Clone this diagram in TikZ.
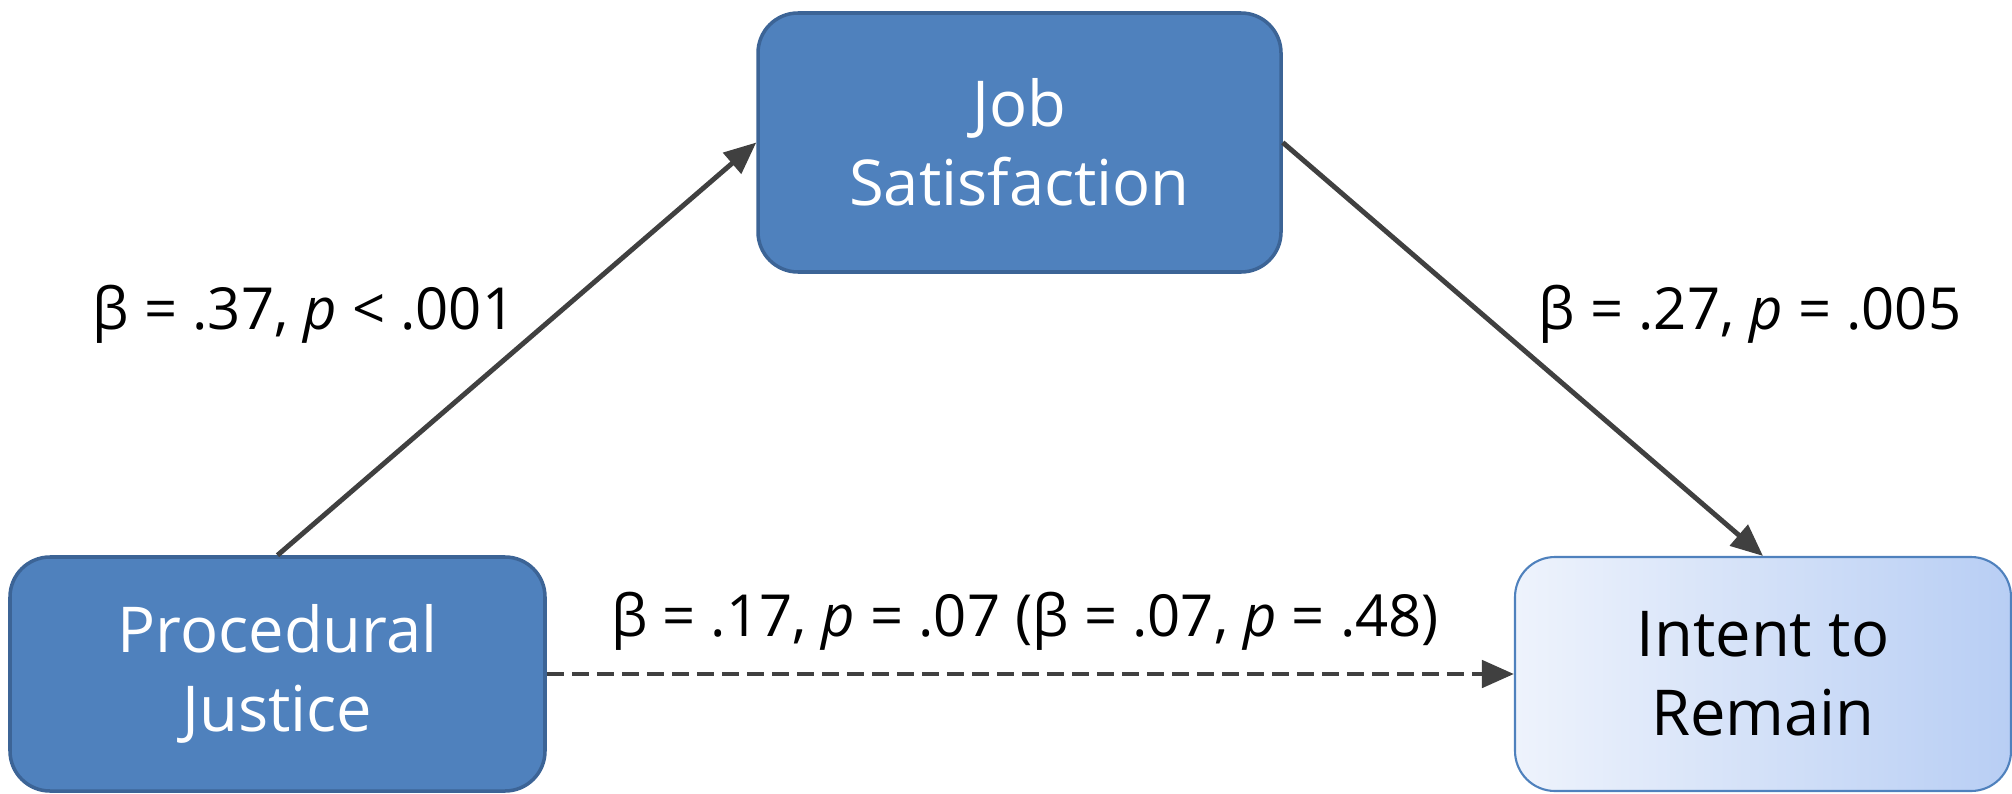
\documentclass[tikz,border=0pt]{standalone}
\usepackage{fontspec}
\setmainfont{Open Sans}
\usetikzlibrary{arrows.meta}

\definecolor{boxblue}{HTML}{4F81BD}
\definecolor{boxedge}{HTML}{3C6496}
\definecolor{linegray}{HTML}{404040}
\definecolor{lightend}{HTML}{EEF3FC}
\definecolor{darkend}{HTML}{B8CEF4}

\begin{document}
\begin{tikzpicture}[
  box/.style={rounded corners=0.4cm, draw=boxedge, line width=1pt, fill=boxblue,
    text=white, align=center, inner sep=0pt, font=\fontsize{18}{22.5}\selectfont},
  outbox/.style={rounded corners=0.4cm, draw=boxblue, line width=0.6pt,
    left color=lightend, right color=darkend, align=center, inner sep=0pt,
    font=\fontsize{18}{22.5}\selectfont},
  link/.style={draw=linegray, line width=1.4pt, -{Triangle[length=0.32cm,width=0.27cm]}},
  coef/.style={font=\fontsize{16.5}{20}\selectfont}
]
\useasboundingbox (0,0) rectangle (20.12,7.93);

% the three variables
\node[box, minimum width=5.23cm, minimum height=2.59cm] (job) at (10.195,6.505) {Job\\Satisfaction};
\node[box, minimum width=5.35cm, minimum height=2.34cm] (pj) at (2.775,1.19) {Procedural\\Justice};
\node[outbox, minimum width=4.96cm, minimum height=2.34cm] (itr) at (17.63,1.19) {Intent to\\Remain};

% paths
\draw[link] (pj.north) -- (job.west);
\draw[link] (job.east) -- (itr.north);
\draw[link, dash pattern=on 0.17cm off 0.08cm] (pj.east) -- (itr.west);

% coefficients
\node[coef] (a) at (3.04,4.79) {β = .37, \textit{p} < .001};
\node[coef] (b) at (17.50,4.79) {β = .27, \textit{p} = .005};
\node[coef] (c) at (10.25,1.72) {β = .17, \textit{p} = .07 (β = .07, \textit{p} = .48)};
\end{tikzpicture}
\end{document}
